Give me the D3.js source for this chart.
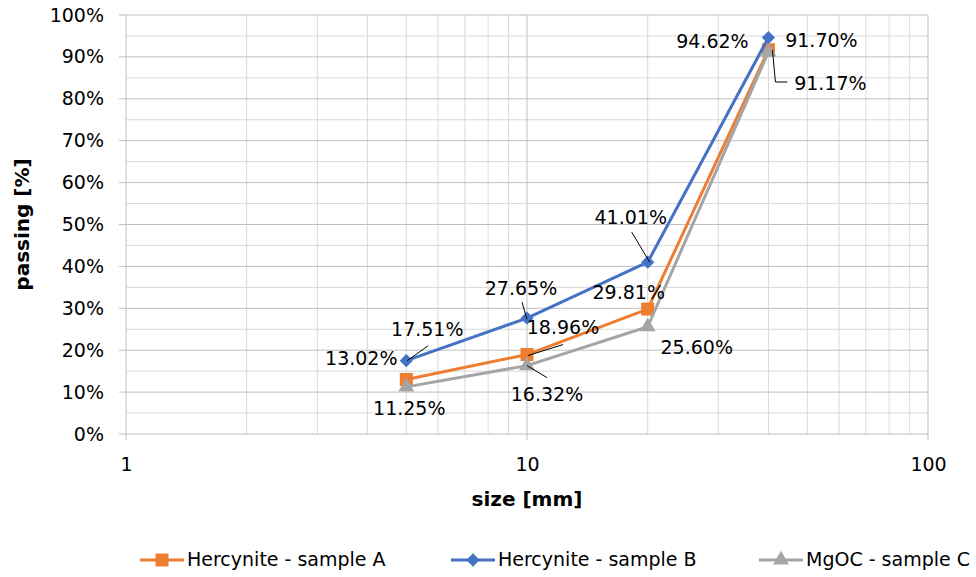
<!DOCTYPE html>
<html>
<head>
<meta charset="utf-8">
<script src="https://cdn.jsdelivr.net/npm/d3@7/dist/d3.min.js"></script>
<style>
  html, body { margin: 0; padding: 0; background: #fff; }
  svg text { font-family: "DejaVu Sans", Verdana, sans-serif; fill: #000; }
</style>
</head>
<body>
<svg id="chart" width="976" height="577"></svg>
<script>
// Sieve sizes (mm) and cumulative passing (%) for each sample
const sizes = [5, 10, 20, 40];
const seriesNames = ["Hercynite - sample A", "Hercynite - sample B", "MgOC - sample C"];
const sampleA = [13.02, 18.96, 29.81, 91.70];
const sampleB = [17.51, 27.65, 41.01, 94.62];
const sampleC = [11.25, 16.32, 25.60, 91.17];
const yTicks = [0, 10, 20, 30, 40, 50, 60, 70, 80, 90, 100];
const xTicks = [1, 10, 100];

// Label placement: offset of the label centre from its point, plus optional leader line
const labelLayout = [
  [ {dx: -45, dy: -20}, {dx: 36, dy: -26, leader: [[1, 1], [36, -10]]}, {dx: -19, dy: -16}, {dx: 53, dy: -8} ],
  [ {dx: 21, dy: -30, leader: [[1, 0], [22, -15]]}, {dx: -6, dy: -29, leader: [[-5, -16], [0, 1]]},
    {dx: -17, dy: -44, leader: [[-16, -30], [2, 0]]}, {dx: -56, dy: 5} ],
  [ {dx: 3, dy: 23}, {dx: 20, dy: 30, leader: [[0, 0], [20, 12]]}, {dx: 49, dy: 22},
    {dx: 62, dy: 33, leader: [[4, -2], [7, 30], [19, 30]]} ]
];

const colors = ["#ED7D31", "#4472C4", "#A5A5A5"];

// Marker shapes: square, square turned 45° (diamond), triangle
const squareSym = d3.symbol().type(d3.symbolSquare).size(170)();
const diamondSym = d3.symbol().type(d3.symbolSquare).size(88)();
const triangleSym = d3.symbol().type(d3.symbolTriangle).size(110)();
const markerPaths = [squareSym, diamondSym, triangleSym];
const markerRot = [0, 45, 0];

const svg = d3.select("#chart");
const plot = {left: 126, right: 928, top: 15, bottom: 434};

const x = d3.scaleLog().domain([1, 100]).range([plot.left, plot.right]);
const y = d3.scaleLinear().domain([0, 100]).range([plot.bottom, plot.top]);

// Minor horizontal gridlines every 5%
const grid = svg.append("g");
d3.range(5, 100, 10).forEach(v => {
  grid.append("line").attr("x1", plot.left).attr("x2", plot.right)
    .attr("y1", y(v)).attr("y2", y(v)).attr("stroke", "#D9D9D9").attr("stroke-width", 1);
});
// Minor vertical gridlines at log subdivisions
const minorX = [];
[1, 10].forEach(dec => { for (let k = 2; k <= 9; k++) minorX.push(dec * k); });
minorX.forEach(v => {
  grid.append("line").attr("x1", x(v)).attr("x2", x(v))
    .attr("y1", plot.top).attr("y2", plot.bottom).attr("stroke", "#D9D9D9").attr("stroke-width", 1);
});
// Major vertical gridlines (decades)
xTicks.forEach(v => {
  grid.append("line").attr("x1", x(v)).attr("x2", x(v))
    .attr("y1", plot.top).attr("y2", plot.bottom + 6).attr("stroke", "#BFBFBF").attr("stroke-width", 1);
});
// Major horizontal gridlines every 10%, with small outside ticks
yTicks.forEach(v => {
  grid.append("line").attr("x1", plot.left - 7).attr("x2", plot.right)
    .attr("y1", y(v)).attr("y2", y(v)).attr("stroke", "#BFBFBF").attr("stroke-width", 1);
});

// Y axis labels
const yAxis = d3.axisLeft(y).tickValues(yTicks).tickFormat(d => d + "%").tickSize(0).tickPadding(22);
const gy = svg.append("g").attr("transform", `translate(${plot.left},0)`).call(yAxis);
gy.select(".domain").remove();
gy.selectAll("text").style("font-size", "19px").attr("font-family", null).attr("fill", "#000");

// X axis labels
const xAxis = d3.axisBottom(x).tickValues(xTicks).tickFormat(d3.format("d")).tickSize(0).tickPadding(24);
const gx = svg.append("g").attr("transform", `translate(0,${plot.bottom})`).call(xAxis);
gx.select(".domain").remove();
gx.selectAll("text").style("font-size", "19px").attr("font-family", null).attr("fill", "#000");

// Axis titles
svg.append("text").attr("x", (x(1) + x(100)) / 2).attr("y", 500)
  .attr("text-anchor", "middle").attr("dominant-baseline", "middle")
  .style("font-size", "20px").style("font-weight", "bold").text("size [mm]");
svg.append("text").attr("transform", `translate(23,${(plot.top + plot.bottom) / 2}) rotate(-90)`)
  .attr("text-anchor", "middle").attr("dominant-baseline", "middle")
  .style("font-size", "20px").style("font-weight", "bold").text("passing [%]");

// Series lines and markers
const allSeries = [sampleA, sampleB, sampleC];
const line = d3.line().x((d, i) => x(sizes[i])).y(d => y(d));
allSeries.forEach((vals, s) => {
  const g = svg.append("g");
  g.append("path").datum(vals).attr("d", line).attr("fill", "none")
    .attr("stroke", colors[s]).attr("stroke-width", 3).attr("stroke-linejoin", "round");
  g.selectAll("path.m").data(vals).enter().append("path").attr("class", "m")
    .attr("d", markerPaths[s])
    .attr("transform", (d, i) => `translate(${x(sizes[i])},${y(d)}) rotate(${markerRot[s]})`)
    .attr("fill", colors[s]);
});

// Data labels with leader lines
allSeries.forEach((vals, s) => {
  vals.forEach((v, i) => {
    const px = x(sizes[i]), py = y(v);
    const lay = labelLayout[s][i];
    if (lay.leader) {
      svg.append("path")
        .attr("d", d3.line()(lay.leader.map(p => [px + p[0], py + p[1]])))
        .attr("fill", "none").attr("stroke", "#000").attr("stroke-width", 1);
    }
    svg.append("text").attr("x", px + lay.dx).attr("y", py + lay.dy)
      .attr("text-anchor", "middle").attr("dominant-baseline", "middle")
      .style("font-size", "19px").text(v.toFixed(2) + "%");
  });
});

// Legend
const legendX = [140, 451, 759];
const legend = svg.append("g");
seriesNames.forEach((name, s) => {
  const lx = legendX[s], ly = 560;
  legend.append("line").attr("x1", lx).attr("x2", lx + 44).attr("y1", ly).attr("y2", ly)
    .attr("stroke", colors[s]).attr("stroke-width", 3);
  legend.append("path").attr("d", markerPaths[s])
    .attr("transform", `translate(${lx + 22},${ly}) rotate(${markerRot[s]})`).attr("fill", colors[s]);
  legend.append("text").attr("x", lx + 47).attr("y", ly).attr("dominant-baseline", "middle")
    .style("font-size", "19px").text(name);
});
</script>
</body>
</html>
